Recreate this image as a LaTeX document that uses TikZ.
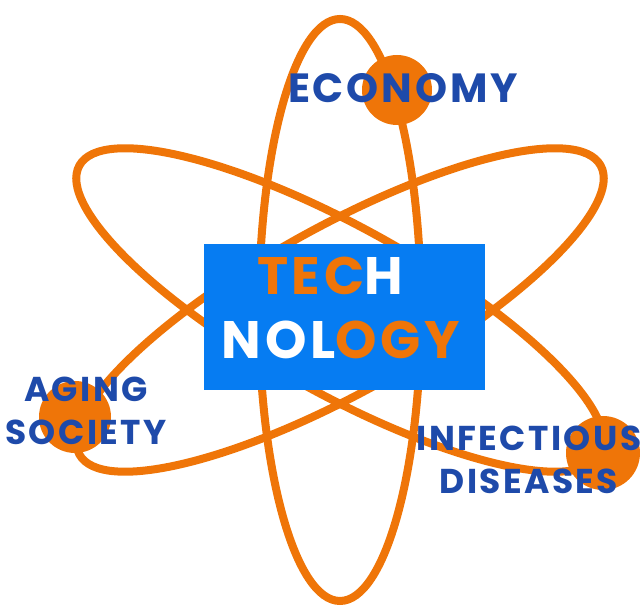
\documentclass[tikz,border=0pt]{standalone}
\usepackage{fontspec}
\usepackage{xcolor}
\newfontfamily\popfont{Poppins}[LetterSpace=7]
\definecolor{atomorange}{RGB}{239,117,8}
\definecolor{labelblue}{RGB}{30,74,170}
\definecolor{boxblue}{RGB}{6,124,242}
\tikzset{
  orbit/.style={atomorange, line width=2mm},
  orbitlabel/.style={labelblue, align=center, inner sep=0pt, font=\popfont\bfseries\fontsize{24.5}{31}\selectfont},
  bigword/.style={inner sep=0pt, font=\popfont\bfseries\fontsize{37.5}{37.5}\selectfont}
}

\begin{document}
\begin{tikzpicture}[x=0.025cm,y=0.025cm]
\useasboundingbox (0,0) rectangle (640,611);
\def\cx{340}
\def\cy{301}
% orbits
\coordinate (nucleus) at (\cx,\cy);
\draw[orbit] (nucleus) ellipse [x radius=81, y radius=291];
\draw[orbit, rotate around={-29:(nucleus)}] (nucleus) ellipse [x radius=298, y radius=83];
\draw[orbit, rotate around={29:(nucleus)}] (nucleus) ellipse [x radius=298, y radius=83];
% electrons
\fill[atomorange] (397,521) circle (35);
\fill[atomorange] (75,194) circle (36);
\fill[atomorange] (603,158) circle (37);
% nucleus box
\fill[boxblue] (204,221) rectangle (485,367);
\node[bigword] (tech) at (330,335) {\textcolor{atomorange}{TEC}\textcolor{white}{H}};
\node[bigword] (nology) at (341,271) {\textcolor{white}{NOL}\textcolor{atomorange}{OGY}};
% labels
\node[orbitlabel, font=\popfont\bfseries\fontsize{29}{29}\selectfont] (economy) at (403,523) {ECONOMY};
\node[orbitlabel] (aging) at (86,200) {AGING\\SOCIETY};
\node[orbitlabel] (infect) at (529,151) {INFECTIOUS\\DISEASES};
\end{tikzpicture}
\end{document}
